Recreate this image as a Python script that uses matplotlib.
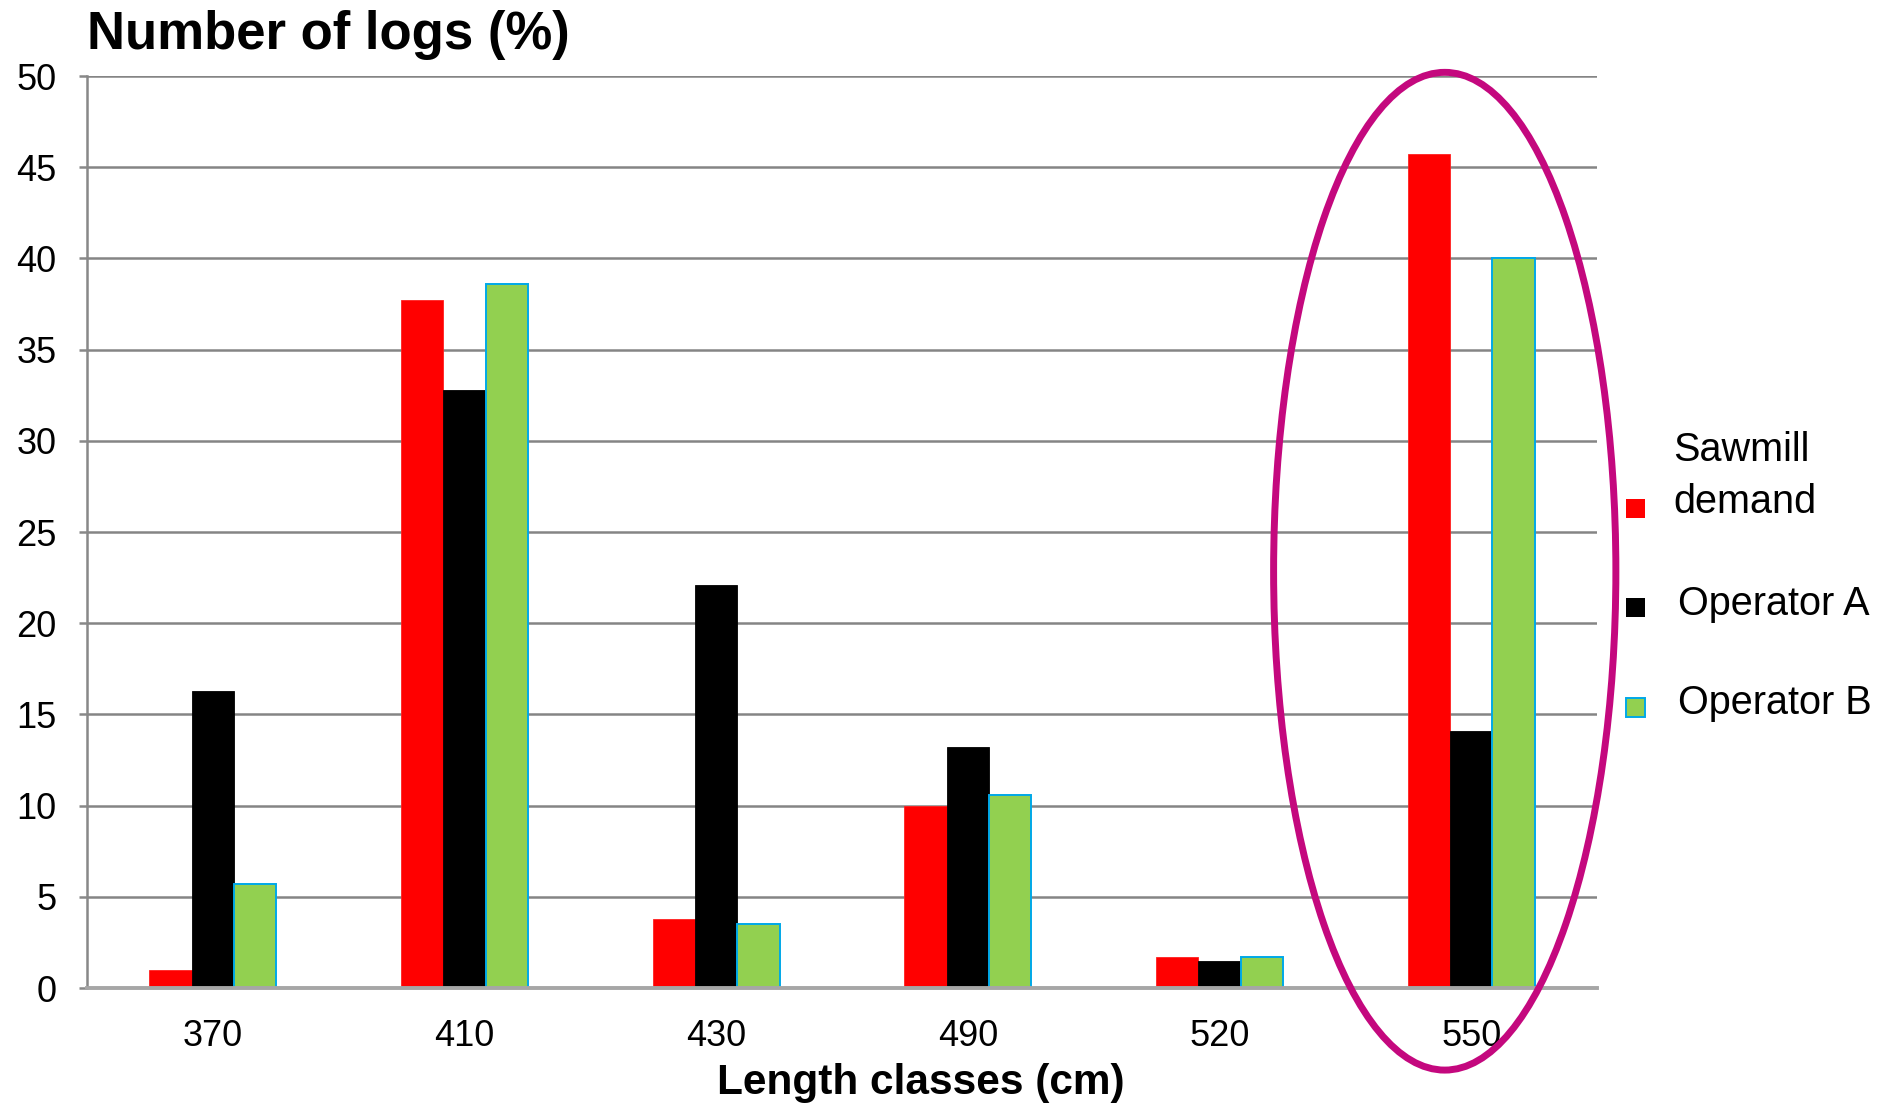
import matplotlib
matplotlib.use("Agg")
import matplotlib.pyplot as plt
import numpy as np
from matplotlib.patches import Ellipse, Rectangle

plt.rcParams['font.family'] = ['Liberation Sans', 'DejaVu Sans']

categories = ["370", "410", "430", "490", "520", "550"]
sawmill = [1.0, 37.7, 3.8, 10.0, 1.7, 45.7]
operator_a = [16.3, 32.8, 22.1, 13.2, 1.5, 14.1]
operator_b = [5.7, 38.6, 3.5, 10.6, 1.7, 40.0]
series_labels = ["Sawmill\ndemand", "Operator A", "Operator B"]
y_ticks = [0, 5, 10, 15, 20, 25, 30, 35, 40, 45, 50]

W, H = 1890, 1107
fig = plt.figure(figsize=(W / 100, H / 100), dpi=100)
ax = fig.add_axes([87 / W, 1 - 988 / H, (1597 - 87) / W, (988 - 76) / H])

x = np.arange(len(categories))
w = 0.168
ax.bar(x - w, sawmill, w, color="#FF0000", edgecolor="#FF2020", linewidth=0.6, zorder=3)
ax.bar(x, operator_a, w, color="#000000", edgecolor="#000000", linewidth=0.6, zorder=3)
ax.bar(x + w, operator_b, w, color="#92D050", edgecolor="#00A8E8", linewidth=1.4, zorder=3)

ax.set_xlim(-0.5, len(categories) - 0.5)
ax.set_ylim(0, 50)
ax.set_yticks(y_ticks)
ax.set_xticks(x)
ax.set_xticklabels(categories)
ax.yaxis.grid(True, color="#858585", linewidth=1.8, zorder=0)
ax.set_axisbelow(True)

for s in ["top", "right"]:
    ax.spines[s].set_visible(False)
ax.spines["left"].set_color("#888888")
ax.spines["left"].set_linewidth(1.8)
ax.spines["bottom"].set_color("#A6A6A6")
ax.spines["bottom"].set_linewidth(2.8)
ax.spines["bottom"].set_zorder(4)

ax.tick_params(axis="y", length=6, width=1.8, color="#888888", pad=16, labelsize=26)
ax.tick_params(axis="x", length=0, pad=22, labelsize=26)

ax.set_xlabel("Length classes (cm)", fontsize=30.5, fontweight="bold")
ax.xaxis.set_label_coords(0.552, -0.104)
ax.xaxis.label.set_va("center")

fig.text(87 / W, 1 - 35 / H, "Number of logs (%)", fontsize=38, fontweight="bold",
         ha="left", va="center")

# highlight ellipse around last category
ell = Ellipse((4.895, 22.85), 1.36, 54.7, fill=False, edgecolor="#C4087E",
              linewidth=5.0, clip_on=False, zorder=6)
ax.add_patch(ell)

# manual legend
sq = 19
leg_colors = [("#FF0000", "#FF0000", 0), ("#000000", "#000000", 0), ("#92D050", "#00A8E8", 1.4)]
marker_cy = [508, 607, 707]
text_x = [1673, 1678, 1678]
text_cy = [476, 604, 703]
for (fc, ec, lw), cy, tx, ty, lab in zip(leg_colors, marker_cy, text_x, text_cy, series_labels):
    fig.add_artist(Rectangle(((1626) / W, 1 - (cy + sq / 2) / H), sq / W, sq / H,
                             facecolor=fc, edgecolor=ec, linewidth=lw,
                             transform=fig.transFigure))
    fig.text(tx / W, 1 - ty / H, lab, fontsize=28.5, ha="left", va="center", linespacing=1.45)

fig.savefig("out.png", dpi=100)
